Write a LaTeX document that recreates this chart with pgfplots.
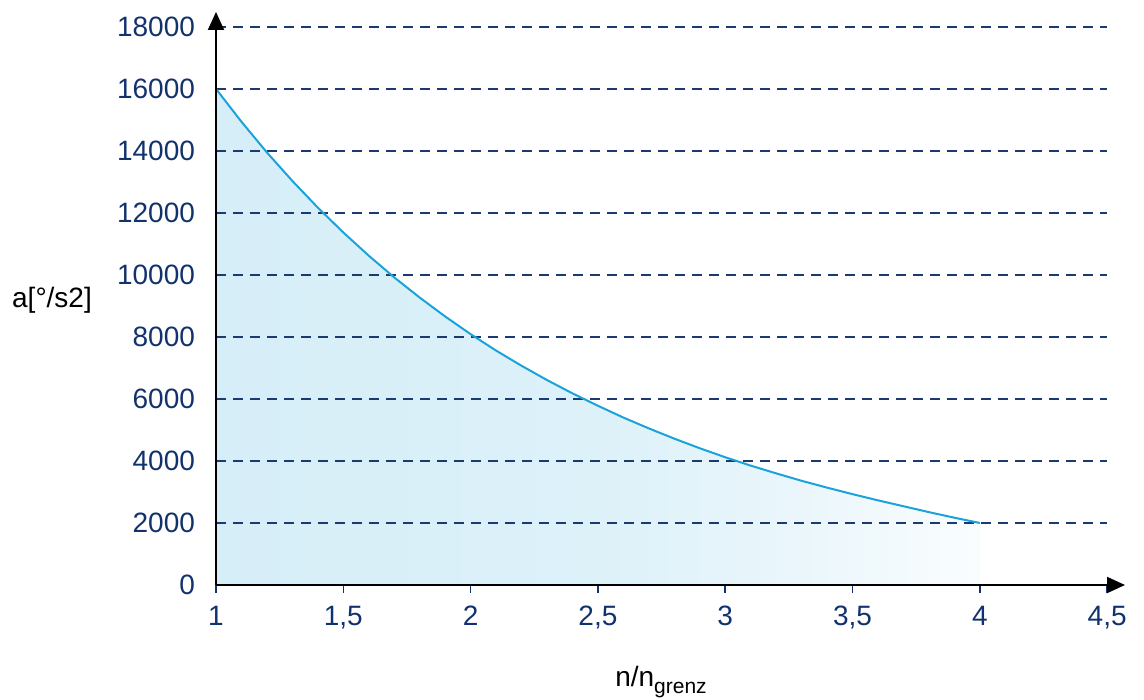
\documentclass[border=0pt]{standalone}
\usepackage{pgfplots}
\pgfplotsset{compat=1.18}
\usepackage{fontspec}
\setmainfont{Liberation Sans}
\usetikzlibrary{arrows.meta}
\definecolor{navy}{HTML}{12326E}
\definecolor{gridc}{HTML}{1B3A72}
\definecolor{curve}{HTML}{1AA3DA}
\definecolor{fillA}{HTML}{D6EEF8}
\definecolor{fillB}{HTML}{DDF1F9}
\definecolor{fillC}{HTML}{EAF6FB}
\definecolor{fillD}{HTML}{FAFDFE}
\pgfdeclarehorizontalshading{fade}{100bp}{color(0bp)=(fillA); color(25bp)=(fillA); color(50bp)=(fillB); color(63bp)=(fillC); color(75bp)=(fillD); color(100bp)=(fillD)}
\pgfplotstableread{
x y
1.0 16000
1.1 14940
1.2 13950
1.3 13030
1.4 12170
1.5 11370
1.6 10620
1.7 9920
1.8 9270
1.9 8660
2.0 8090
2.1 7560
2.2 7070
2.3 6610
2.4 6180
2.5 5780
2.6 5400
2.7 5050
2.8 4720
2.9 4410
3.0 4120
3.1 3850
3.2 3600
3.3 3360
3.4 3140
3.5 2930
3.6 2730
3.7 2540
3.8 2350
3.9 2170
4.0 2000
}\curvedata
\begin{document}
\begin{tikzpicture}
\begin{axis}[
  scale only axis,
  width=454.5pt, height=286.5pt,
  xmin=1, xmax=4.57, ymin=0, ymax=18480,
  axis lines=left,
  axis on top,
  axis line style={line width=1pt, -{Triangle[width=8pt,length=9pt]}},
  xtick={1,1.5,2,2.5,3,3.5,4,4.5},
  ytick={0,2000,4000,6000,8000,10000,12000,14000,16000,18000},
  scaled ticks=false,
  xtick align=outside,
  major tick length=4pt,
  xtick style={navy, line width=0.8pt},
  ytick style={draw=none},
  /pgf/number format/.cd, use comma, 1000 sep={}, assume math mode=true,
  /pgfplots/.cd,
  tick label style={font=\fontsize{14}{16}\selectfont, text=navy},
  xticklabel style={yshift=-3pt},
  yticklabel style={xshift=-5pt},
]
\addplot[draw=none, shading=fade] table[x=x,y=y]{\curvedata} \closedcycle;
\pgfplotsinvokeforeach{2000,4000,6000,8000,10000,12000,14000,16000,18000}{
  \draw[gridc, line width=0.7pt, dash pattern=on 5pt off 3.5pt] (axis cs:1,#1) -- (axis cs:4.5,#1);
}
\addplot[curve, line width=1pt] table[x=x,y=y]{\curvedata};
\coordinate (O) at (axis cs:1,0);
\end{axis}
\node[font=\fontsize{14}{16}\selectfont, anchor=center] at ([shift={(-82pt,142.5pt)}]O) {a[°/s2]};
\node[font=\fontsize{14}{16}\selectfont, anchor=base] at ([shift={(222.5pt,-50.5pt)}]O) {n/n\raisebox{-3.5pt}{\fontsize{10.5}{12}\selectfont grenz}};
\pgfresetboundingbox
\path[use as bounding box] ([shift={(-108pt,-57.5pt)}]O) rectangle ([shift={(464pt,292.5pt)}]O);
\end{tikzpicture}
\end{document}
